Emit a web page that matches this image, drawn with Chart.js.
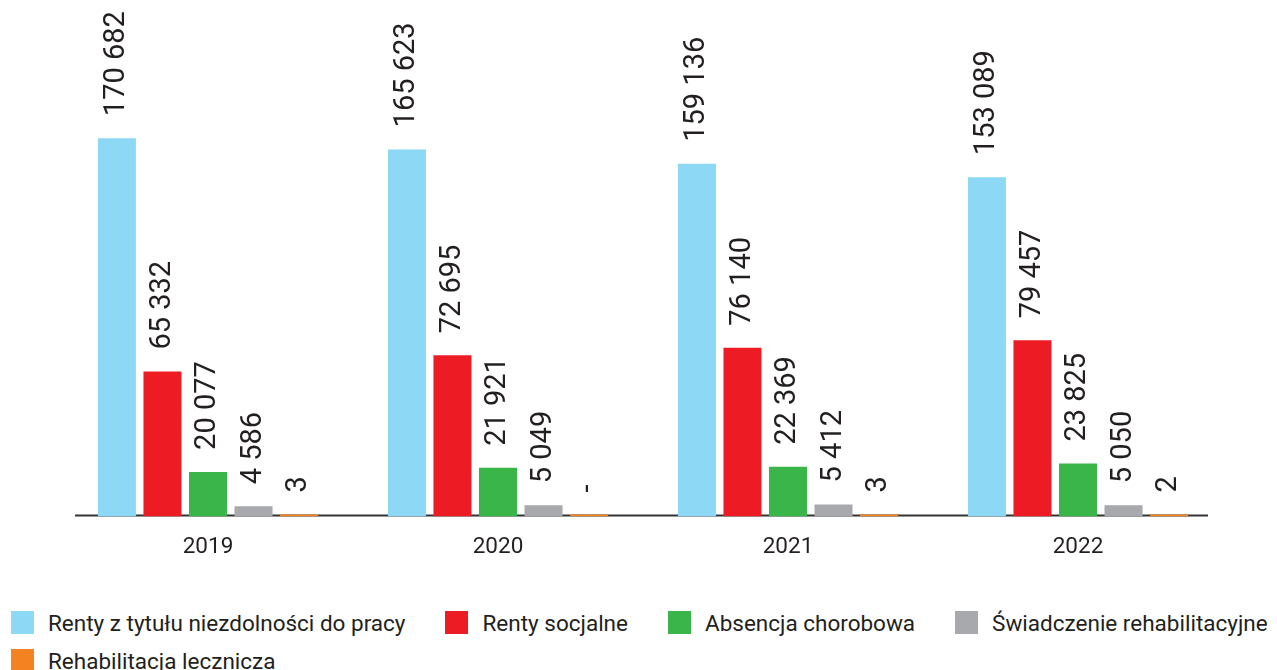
<!DOCTYPE html>
<html><head><meta charset="utf-8">
<script src="https://cdn.jsdelivr.net/npm/chart.js@4.4.1/dist/chart.umd.min.js"></script>
<style>
html,body{margin:0;padding:0;background:#fff;width:1277px;height:670px;overflow:hidden;font-family:Roboto,sans-serif;}
#c{position:absolute;left:0;top:0;}
#legend{position:absolute;left:11px;top:611px;width:1290px;display:flex;flex-wrap:wrap;row-gap:15px;column-gap:40px;}
.item{display:flex;align-items:center;height:23px;font-size:22.5px;color:#231f20;white-space:nowrap;}
.box{width:23px;height:23px;margin-right:14px;flex:none;}
</style></head>
<body>
<canvas id="c" width="1277" height="590"></canvas>
<div id="legend"></div>
<script>
const categories = ['2019', '2020', '2021', '2022'];
const seriesNames = ['Renty z tytułu niezdolności do pracy', 'Renty socjalne', 'Absencja chorobowa', 'Świadczenie rehabilitacyjne', 'Rehabilitacja lecznicza'];
const rentyNiezdolnosc = [170682, 165623, 159136, 153089];
const rentySocjalne = [65332, 72695, 76140, 79457];
const absencjaChorobowa = [20077, 21921, 22369, 23825];
const swiadczenieRehab = [4586, 5049, 5412, 5050];
const rehabLecznicza = [3, 0, 3, 2];
const colors = ['#8dd8f5', '#ed1c24', '#3ab54a', '#a7a9ac', '#f58220'];

const fmt = v => v === 0 ? '-' : String(v).replace(/\B(?=(\d{3})+(?!\d))/g, ' ');

const baseline = {
  id: 'baseline',
  beforeDatasetsDraw(chart) {
    const y = chart.scales.y.getPixelForValue(0);
    const ctx = chart.ctx;
    ctx.save();
    ctx.strokeStyle = '#333';
    ctx.lineWidth = 2;
    ctx.beginPath();
    ctx.moveTo(75, y - 1);
    ctx.lineTo(1208, y - 1);
    ctx.stroke();
    ctx.restore();
  }
};
const vlabels = {
  id: 'vlabels',
  afterDatasetsDraw(chart) {
    const ctx = chart.ctx;
    ctx.save();
    ctx.font = '29px Roboto';
    ctx.fillStyle = '#231f20';
    ctx.textAlign = 'left';
    ctx.textBaseline = 'middle';
    chart.data.datasets.forEach((ds, i) => {
      chart.getDatasetMeta(i).data.forEach((bar, j) => {
        ctx.save();
        ctx.translate(bar.x, Math.min(bar.y, bar.base) - 22);
        ctx.rotate(-Math.PI / 2);
        ctx.fillText(fmt(ds.data[j]), 0, 0);
        ctx.restore();
      });
    });
    ctx.restore();
  }
};

const seriesData = [rentyNiezdolnosc, rentySocjalne, absencjaChorobowa, swiadczenieRehab, rehabLecznicza];
const datasets = seriesData.map((d, i) => ({
  label: seriesNames[i],
  data: d,
  backgroundColor: colors[i],
  borderWidth: 0,
  minBarLength: i === 4 ? 2 : 0,
  categoryPercentage: 0.785,
  barPercentage: 0.835
}));

new Chart(document.getElementById('c'), {
  type: 'bar',
  data: { labels: categories, datasets },
  options: {
    responsive: false,
    animation: false,
    layout: { padding: { left: 63, right: 54, top: 73.2, bottom: 12.6 } },
    plugins: { legend: { display: false }, tooltip: { enabled: false } },
    scales: {
      x: {
        grid: { display: false, drawTicks: false },
        border: { display: false },
        ticks: { padding: 17, color: '#231f20', font: { family: 'Roboto', size: 22.5 } }
      },
      y: { display: false, min: 0, max: 200000 }
    }
  },
  plugins: [baseline, vlabels]
});

const lg = document.getElementById('legend');
seriesNames.forEach((n, i) => {
  const it = document.createElement('div');
  it.className = 'item';
  it.innerHTML = '<span class="box" style="background:' + colors[i] + '"></span><span>' + n + '</span>';
  lg.appendChild(it);
});
</script>
</body></html>
